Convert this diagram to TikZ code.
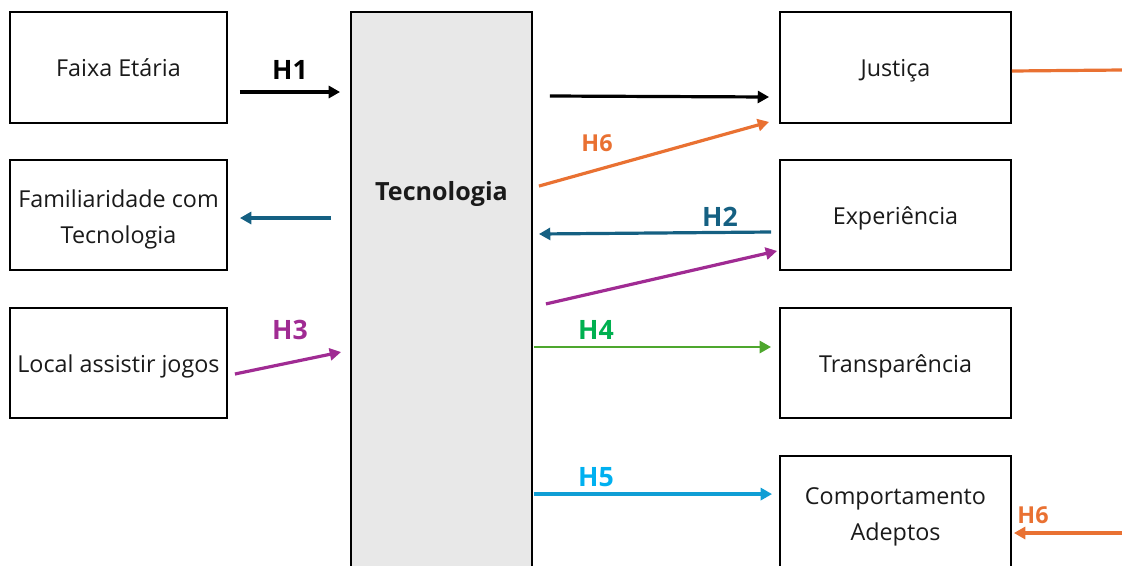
\documentclass[tikz,border=0pt]{standalone}
\usepackage{fontspec}
\setmainfont{Open Sans}
\usetikzlibrary{calc,arrows.meta}
\definecolor{orangeA}{HTML}{E97132}
\definecolor{tealA}{HTML}{156082}
\definecolor{purpleA}{HTML}{A02B93}
\definecolor{greenA}{HTML}{4EA72E}
\definecolor{greenT}{HTML}{00B050}
\definecolor{blueA}{HTML}{0F9ED5}
\definecolor{blueT}{HTML}{00B0F0}
\definecolor{greyA}{HTML}{E8E8E8}
\definecolor{txt}{HTML}{1A1A1A}
\newcommand\dntxt[2][-1.6pt]{\raisebox{#1}[\height][\depth]{\begin{tabular}{@{}c@{}}#2\end{tabular}}}
\tikzset{
  box/.style={draw=black, line width=1.4pt, fill=white, minimum width=#1,
     inner sep=0pt, text=txt, font=\fontsize{17.5}{27}\selectfont},
  box/.default={217},
  arr/.style={line width=2.4pt, -{Triangle[length=8.5pt,width=9pt]}},
  hlab/.style={font=\bfseries\fontsize{20}{22}\selectfont, inner sep=0pt},
  hlabs/.style={font=\bfseries\fontsize{17.5}{19}\selectfont, inner sep=0pt},
}
\begin{document}
\begin{tikzpicture}[x=0.75pt,y=-0.75pt]
\useasboundingbox (0,0) rectangle (1122,565);
\clip (0,0) rectangle (1122,565);
% left boxes
\node[box={217*0.75pt}, minimum height=111*0.75pt] (faixa) at (118.5,67.5) {\dntxt{Faixa Etária}};
\node[box={217*0.75pt}, minimum height=110*0.75pt] (familiar) at (118.5,215) {\dntxt[-2.8pt]{Familiaridade com\\Tecnologia}};
\node[box={217*0.75pt}, minimum height=110*0.75pt] (local) at (118.5,363) {\dntxt{Local assistir jogos}};
% central box
\node[draw=black, line width=1.4pt, fill=greyA, minimum width=181*0.75pt, minimum height=578*0.75pt, inner sep=0pt] (tec) at (441.5,301) {};
\node[font=\bfseries\fontsize{18.8}{20}\selectfont, text=txt, inner sep=0pt] (teclab) at (441.5,194) {Tecnologia};
% right boxes
\node[box={231*0.75pt}, minimum height=111*0.75pt] (justica) at (895.5,67.5) {\dntxt{Justiça}};
\node[box={231*0.75pt}, minimum height=110*0.75pt] (exper) at (895.5,215) {\dntxt{Experiência}};
\node[box={231*0.75pt}, minimum height=110*0.75pt] (transp) at (895.5,363) {\dntxt{Transparência}};
\node[box={231*0.75pt}, minimum height=114*0.75pt] (comport) at (895.5,513) {\dntxt[-1.8pt]{Comportamento\\Adeptos}};
% free ends
\coordinate (jr) at (1122,70);
\coordinate (cr) at (1122,533);
% arrows
\draw[arr, black] ($(faixa.east)+(12,24.5)$) -- ($(faixa.east -| tec.west)+(-10,24.5)$);
\draw[arr, black] ($(justica.west -| tec.east)+(17,28.5)$) -- ($(justica.west)+(-10,29.5)$);
\draw[arr, orangeA] ($(tec.east |- exper.north)+(6,27)$) -- ($(justica.south west)+(-10,-2)$);
\draw[arr, tealA] ($(exper.west)+(-8,17)$) -- ($(exper.west -| tec.east)+(6,19)$);
\draw[arr, tealA] ($(familiar.east -| tec.west)+(-19,3)$) -- ($(familiar.east)+(12,3)$);
\draw[arr, purpleA] ($(exper.south -| tec.east)+(13,33)$) -- ($(exper.south west)+(-2,-20)$);
\draw[arr, purpleA] ($(local.east)+(7,11)$) -- ($(local.east -| tec.west)+(-9,-11)$);
\draw[arr, greenA, line width=2pt] ($(tec.east |- transp.west)+(1,-16)$) -- ($(transp.west)+(-8,-16)$);
\draw[arr, blueA] ($(tec.east |- comport.north)+(1,39)$) -- ($(comport.north west)+(-7,39)$);
\draw[orangeA, line width=2.4pt] ($(justica.east)+(0,3.5)$) -- (jr);
\draw[arr, orangeA] (cr) -- ($(comport.east)+(2,20)$);
% labels
\node[hlab, text=black] (h1) at (290,70) {H1};
\node[hlabs, text=orangeA] (h6a) at (597,143) {H6};
\node[hlab, text=tealA] (h2) at (720,217) {H2};
\node[hlab, text=purpleA] (h3) at (290,330) {H3};
\node[hlab, text=greenT] (h4) at (596,330) {H4};
\node[hlab, text=blueT] (h5) at (596,477) {H5};
\node[hlabs, text=orangeA] (h6b) at (1033,515) {H6};
\end{tikzpicture}
\end{document}
